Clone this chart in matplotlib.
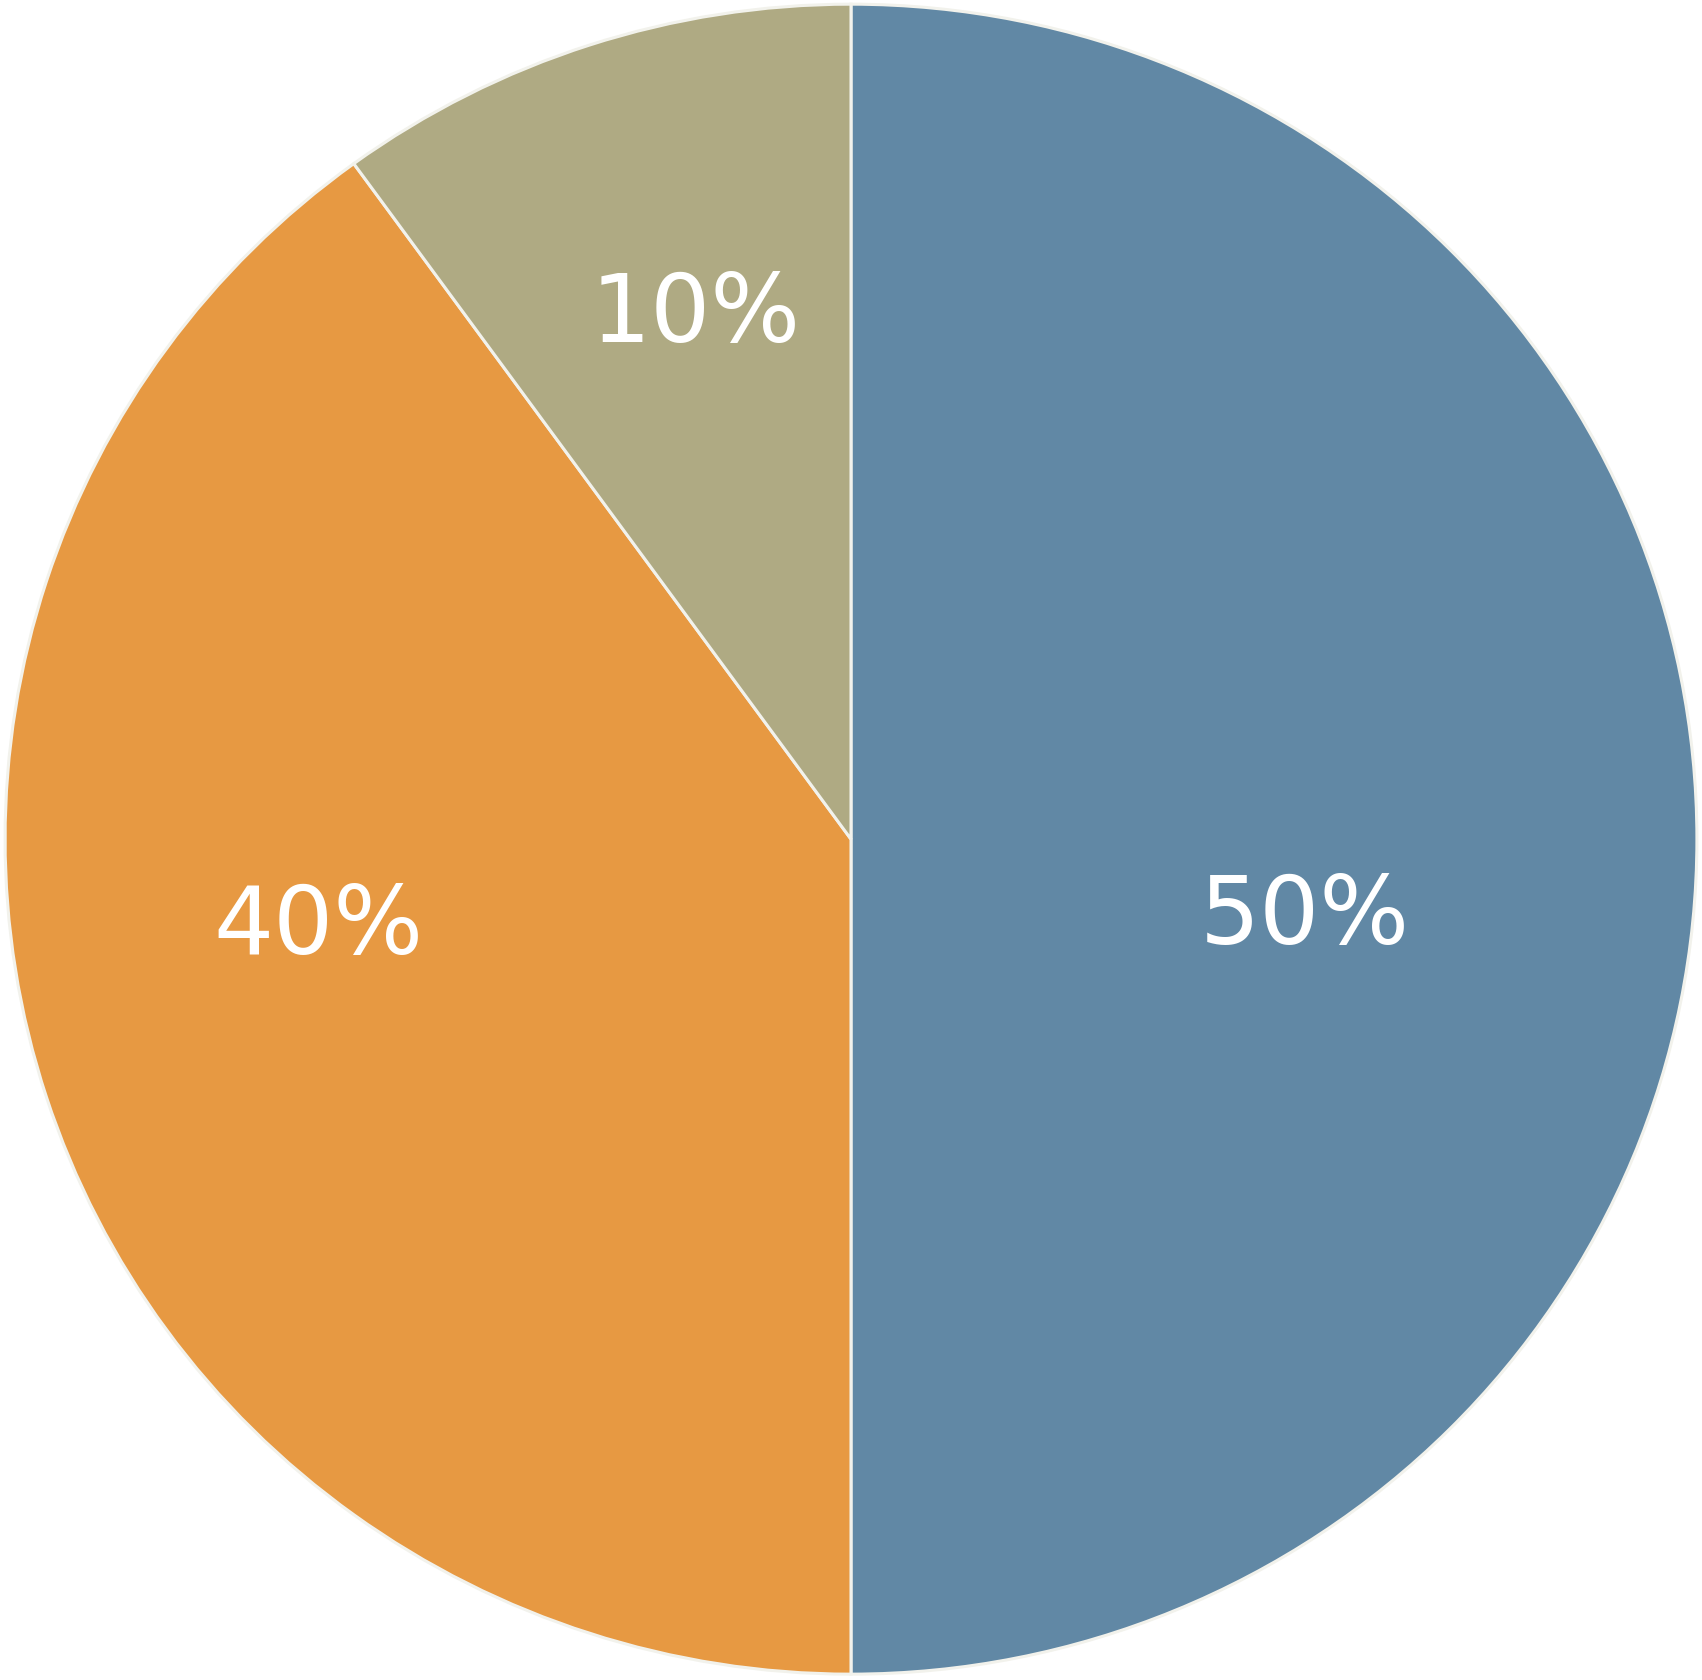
import matplotlib
matplotlib.use("Agg")
import matplotlib.pyplot as plt

# ---------------------------------------------------------
# DATA
# ---------------------------------------------------------
values = [50, 40, 10]
colors = ["#6188A5", "#E79942", "#AFAA83"]
labels = [f"{v}%" for v in values]

# label baseline anchors (axes data units, pie radius = 1)
label_xy = [(0.537, -0.125), (-0.629, -0.138), (-0.184, 0.595)]

# ---------------------------------------------------------
# PLOT
# ---------------------------------------------------------
fig = plt.figure(figsize=(17.02, 16.80), dpi=100)
ax = fig.add_axes([0, 0, 1, 1])

wedges, _ = ax.pie(values, colors=colors, startangle=90, counterclock=False,
                   radius=1.0,
                   wedgeprops=dict(edgecolor="#F2F2EC", linewidth=2.2))

for txt, (x, y) in zip(labels, label_xy):
    ax.text(x, y, txt, ha="center", va="baseline", color="white",
            fontsize=68, family="DejaVu Sans")

ax.set_aspect("auto")
ax.set_xlim(-1.006, 1.006)
ax.set_ylim(-1.007, 1.005)
ax.axis("off")

fig.savefig("out.png", dpi=100, facecolor="white")
